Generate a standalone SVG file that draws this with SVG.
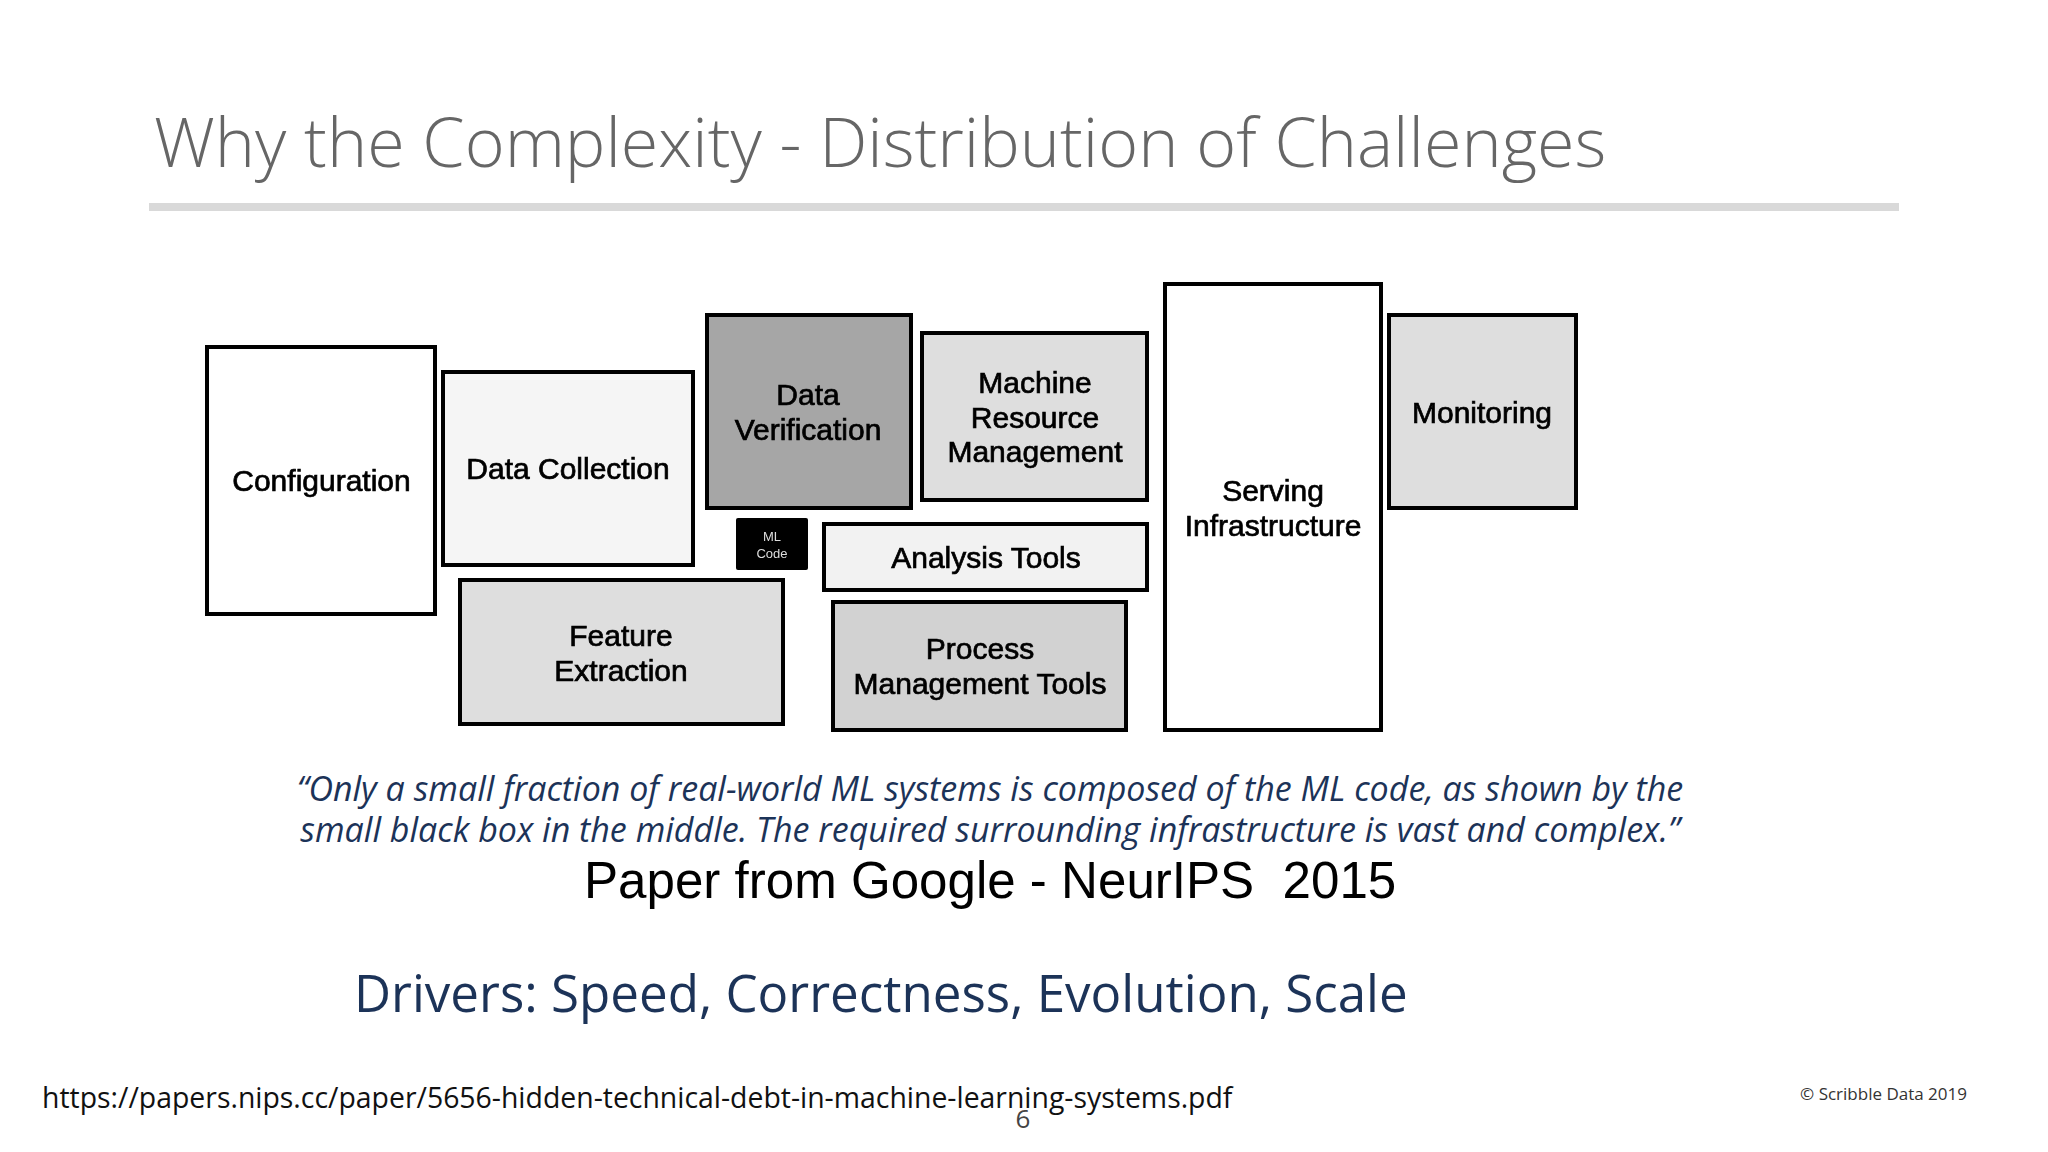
<svg xmlns="http://www.w3.org/2000/svg" width="2048" height="1152" viewBox="0 0 2048 1152">
<defs><filter id="soft" x="-5%" y="-5%" width="110%" height="110%"><feGaussianBlur stdDeviation="0.6"/></filter></defs>
<style>
.box{stroke:#000;stroke-width:4}
.lbl{font-family:"Liberation Sans",Arial,sans-serif;font-size:30px;fill:#000;stroke:#000;stroke-width:.7px;text-anchor:middle}
.ml{font-family:"Liberation Sans",Arial,sans-serif;font-size:13px;fill:#ddd;text-anchor:middle}
.quote{font-family:"Open Sans",sans-serif;font-style:italic;font-size:34px;fill:#1c3358;text-anchor:middle}
</style>
<rect width="2048" height="1152" fill="#fff"/>
<text x="154" y="167" font-family="Open Sans" font-weight="300" font-size="68.200" fill="#666">Why the Complexity - Distribution of Challenges</text>
<rect x="149" y="203" width="1750" height="8" fill="#d9d9d9"/>
<g id="connectors"/>
<g filter="url(#soft)">
<g id="configuration"><rect class="box" x="207" y="347" width="228" height="267" fill="#fff"/><text class="lbl" x="321.500" y="491">Configuration</text></g>
<g id="data-collection"><rect class="box" x="443" y="372" width="250" height="193" fill="#f5f5f5"/><text class="lbl" x="568" y="479">Data Collection</text></g>
<g id="data-verification"><rect class="box" x="707" y="315" width="204" height="193" fill="#a6a6a6"/><text class="lbl" x="808" y="405">Data</text><text class="lbl" x="808" y="440">Verification</text></g>
<g id="machine-resource"><rect class="box" x="922" y="333" width="225" height="167" fill="#dedede"/><text class="lbl" x="1035" y="393">Machine</text><text class="lbl" x="1035" y="428">Resource</text><text class="lbl" x="1035" y="462">Management</text></g>
<g id="serving"><rect class="box" x="1165" y="284" width="216" height="446" fill="#fff"/><text class="lbl" x="1273" y="501">Serving</text><text class="lbl" x="1273" y="536">Infrastructure</text></g>
<g id="monitoring"><rect class="box" x="1389" y="315" width="187" height="193" fill="#dedede"/><text class="lbl" x="1482" y="423">Monitoring</text></g>
<g id="ml-code"><rect x="736" y="518" width="72" height="52" rx="2" fill="#000"/><text class="ml" x="772" y="541">ML</text><text class="ml" x="772" y="558">Code</text></g>
<g id="analysis-tools"><rect class="box" x="824" y="524" width="323" height="66" fill="#f2f2f2"/><text class="lbl" x="986" y="568">Analysis Tools</text></g>
<g id="feature-extraction"><rect class="box" x="460" y="580" width="323" height="144" fill="#dedede"/><text class="lbl" x="621" y="646">Feature</text><text class="lbl" x="621" y="681">Extraction</text></g>
<g id="process-tools"><rect class="box" x="833" y="602" width="293" height="128" fill="#d2d2d2"/><text class="lbl" x="980" y="659">Process</text><text class="lbl" x="980" y="694">Management Tools</text></g>
</g>
<text class="quote" x="990" y="801">“Only a small fraction of real-world ML systems is composed of the ML code, as shown by the</text>
<text class="quote" x="990" y="842">small black box in the middle. The required surrounding infrastructure is vast and complex.”</text>
<text x="584" y="898" font-family="Liberation Sans" font-size="51.100" fill="#000" xml:space="preserve">Paper from Google - NeurIPS  2015</text>
<text x="354" y="1012" font-family="Open Sans" font-size="51.100" fill="#1c3358">Drivers: Speed, Correctness, Evolution, Scale</text>
<text x="42" y="1108" font-family="Open Sans" font-size="28.400" fill="#111">https://papers.nips.cc/paper/5656-hidden-technical-debt-in-machine-learning-systems.pdf</text>
<text x="1023" y="1128" font-family="Open Sans" font-size="26" fill="#444" text-anchor="middle">6</text>
<text x="1967" y="1100" font-family="Open Sans" font-size="17" fill="#333" text-anchor="end">© Scribble Data 2019</text>
</svg>
